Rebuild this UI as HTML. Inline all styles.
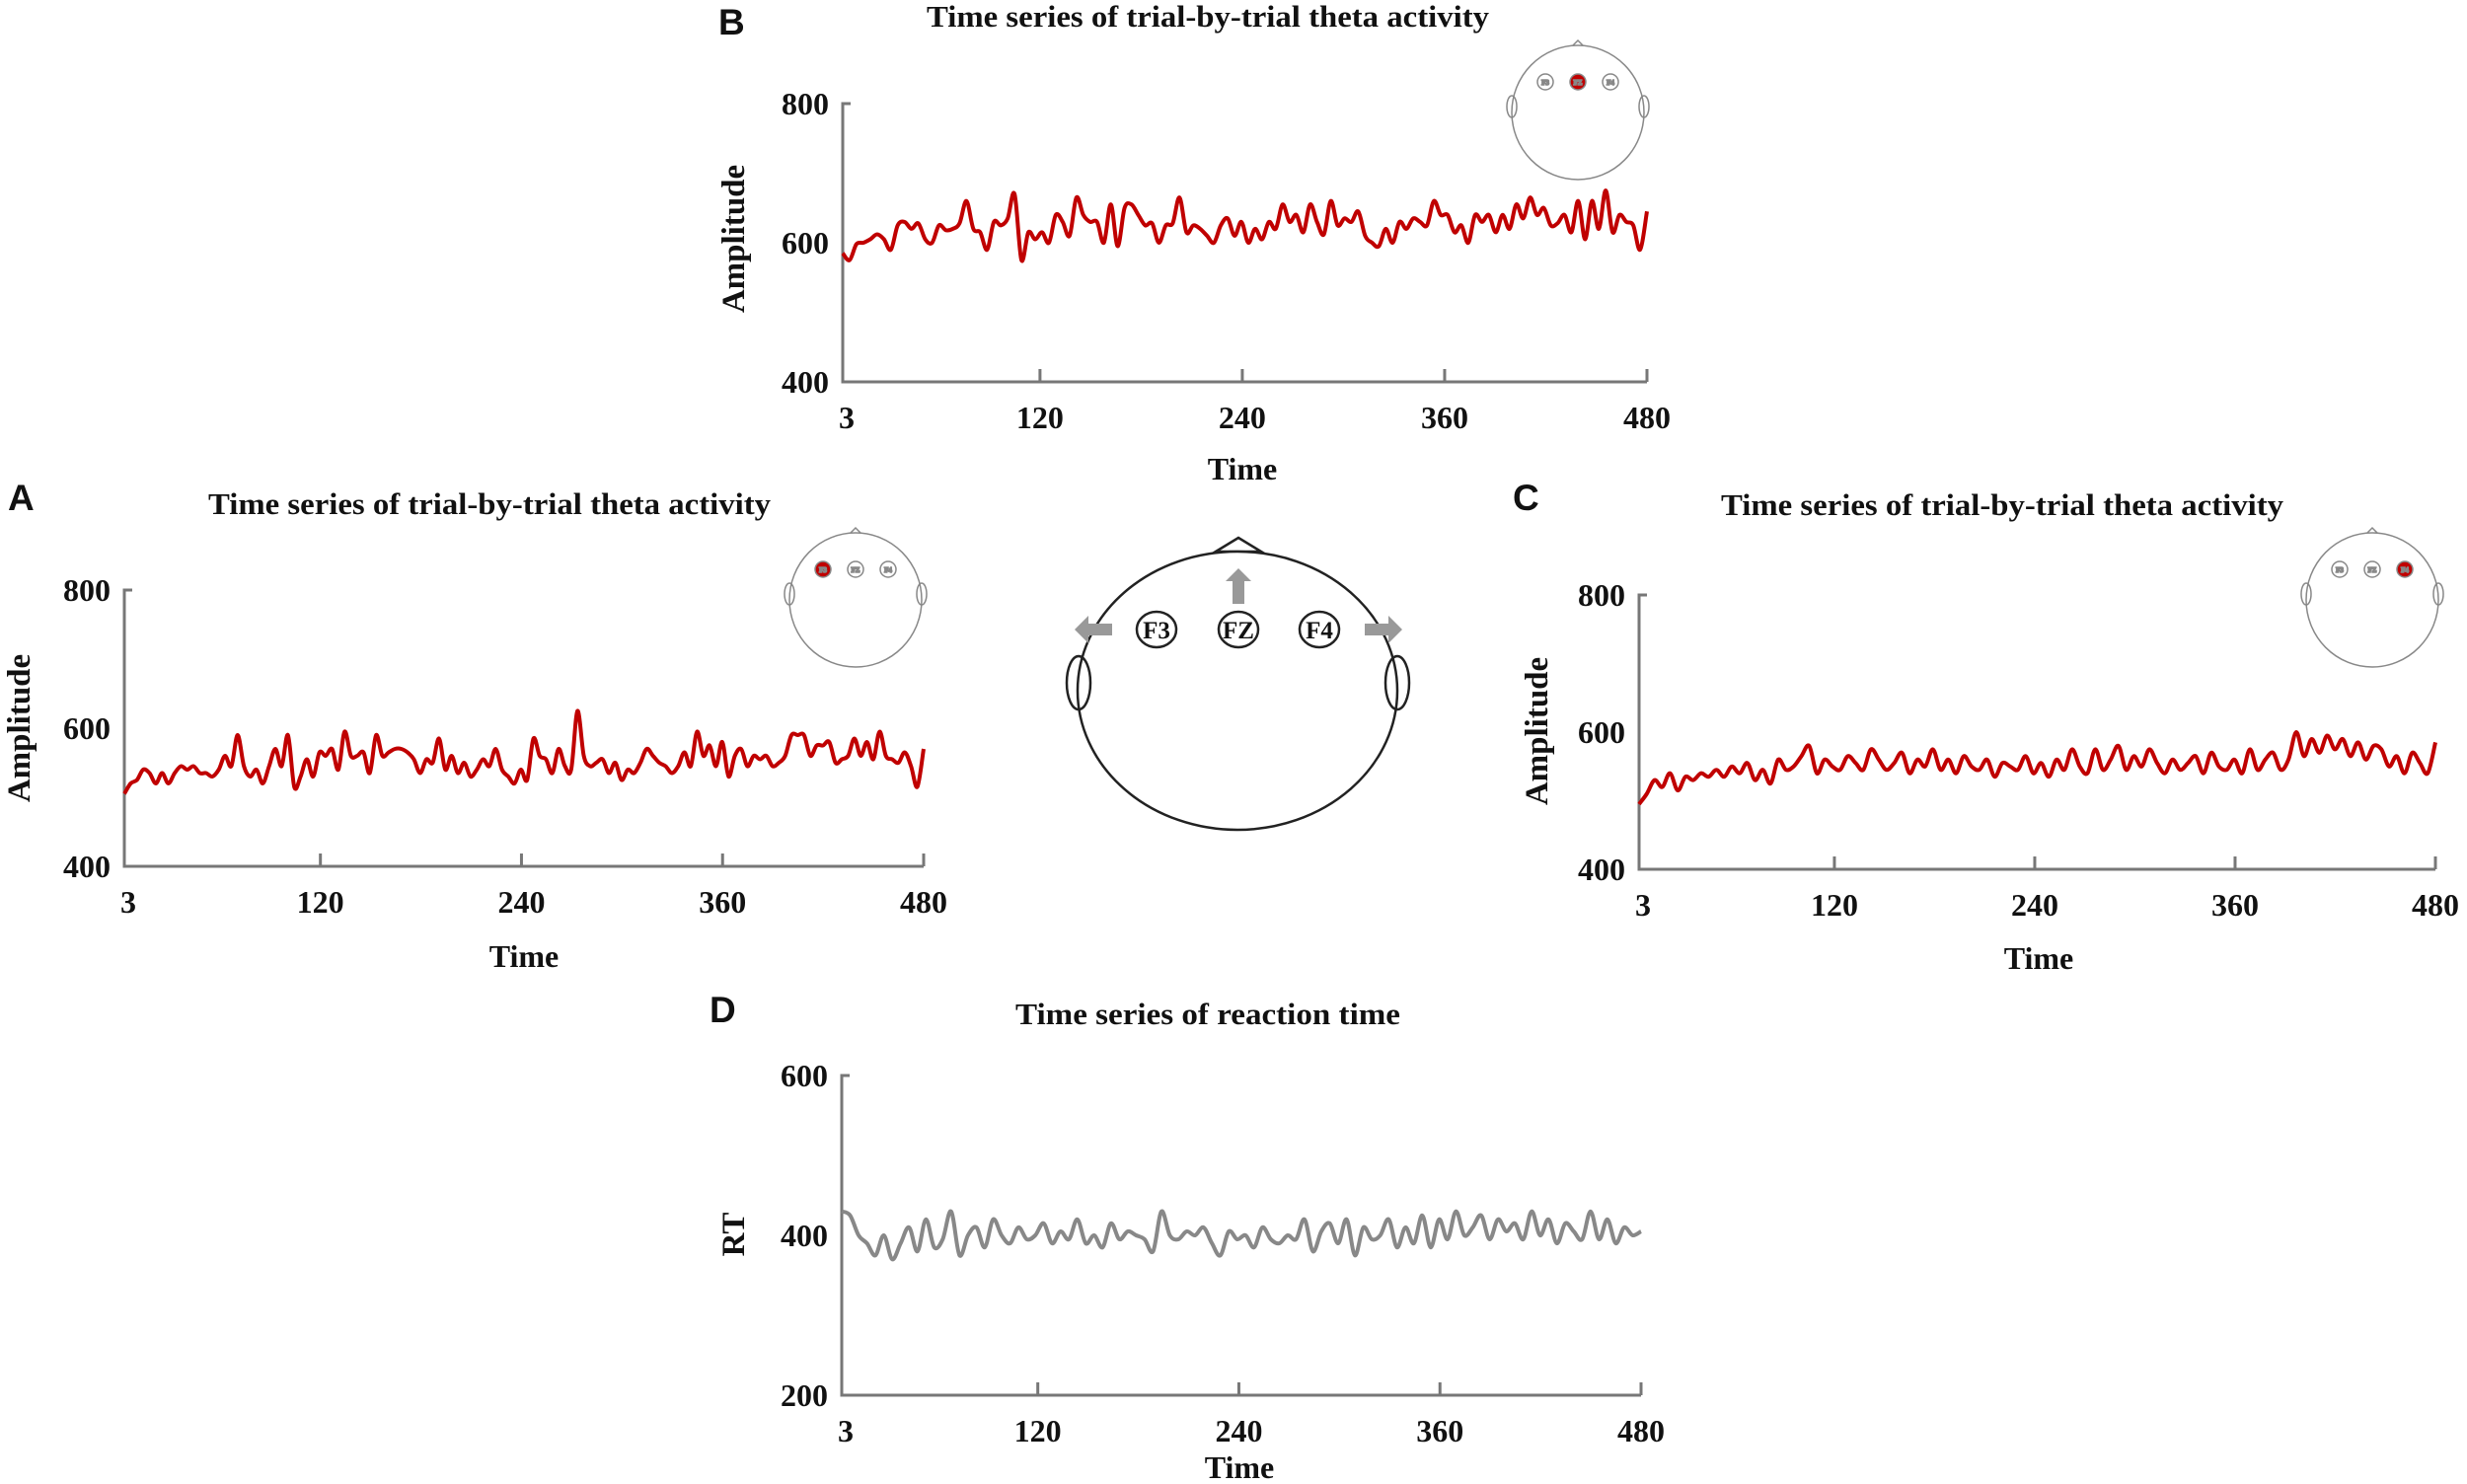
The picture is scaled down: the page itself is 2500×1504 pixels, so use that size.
<!DOCTYPE html>
<html><head><meta charset="utf-8">
<style>
html,body{margin:0;padding:0;background:#fff;}
svg{display:block;}
text{font-family:"Liberation Serif",serif;font-weight:bold;fill:#111;}
.lt{font-family:"Liberation Sans",sans-serif;font-weight:bold;}
</style></head>
<body>
<svg id="fig" width="2500" height="1504" viewBox="0 0 2500 1504" xmlns="http://www.w3.org/2000/svg">
<g id="center-head" fill="none" stroke="#222" stroke-width="2.5">
  <polygon points="1232,559 1255,545 1278,559"/>
  <ellipse cx="1254" cy="700" rx="162" ry="141" fill="#fff"/>
  <ellipse cx="1093" cy="692" rx="12" ry="27"/>
  <ellipse cx="1416" cy="692" rx="12" ry="27"/>
  <ellipse cx="1172" cy="638" rx="20" ry="18"/>
  <ellipse cx="1255" cy="638" rx="20" ry="18"/>
  <ellipse cx="1337" cy="638" rx="20" ry="18"/>
  <polygon fill="#999" stroke="none" points="1089,638 1103,624 1103,632 1127,632 1127,644 1103,644 1103,652"/>
  <polygon fill="#999" stroke="none" points="1421,638 1407,624 1407,632 1383,632 1383,644 1407,644 1407,652"/>
  <polygon fill="#999" stroke="none" points="1255,576 1268,589 1261,589 1261,612 1249,612 1249,589 1242,589"/>
</g>
<text x="1172" y="647" font-size="25" text-anchor="middle">F3</text>
<text x="1255" y="647" font-size="25" text-anchor="middle">FZ</text>
<text x="1337" y="647" font-size="25" text-anchor="middle">F4</text>
</svg>
<script>
const xTicks = [3,120,240,360,480];
const ampTicks = [400,600,800];
const rtTicks = [200,400,600];
const seriesF3 = [505,520,525,540,535,520,535,520,535,545,540,545,535,535,530,540,560,545,590,545,530,540,520,545,570,545,590,515,530,555,530,565,560,570,540,595,560,560,565,535,590,560,565,570,570,565,555,535,555,550,585,540,560,535,550,530,540,555,545,570,540,530,520,540,525,585,560,555,535,570,545,540,625,560,545,550,555,535,550,525,540,535,550,570,560,550,545,535,545,565,545,595,560,575,545,580,530,560,570,545,560,555,560,545,550,560,590,590,590,560,575,575,580,550,555,560,585,560,580,555,595,560,555,550,565,545,515,570];
const seriesFZ = [585,575,598,600,605,612,605,590,625,630,620,628,605,600,625,618,620,628,660,620,615,590,630,625,635,670,575,615,605,615,600,640,630,610,665,640,630,630,600,655,595,650,655,640,625,628,600,625,628,665,615,625,620,610,600,625,635,610,630,600,620,605,630,620,655,630,640,615,655,630,612,660,625,635,630,645,610,600,595,620,600,630,620,635,630,625,660,640,640,615,625,600,640,630,640,615,640,620,655,635,665,640,650,625,628,640,615,660,605,660,620,675,615,640,630,625,590,645];
const seriesF4 = [495,510,530,520,540,515,535,530,540,535,545,535,550,540,555,530,545,525,560,545,550,565,580,540,560,550,545,565,555,545,575,560,545,555,570,540,560,550,575,545,560,540,565,550,545,560,535,555,550,545,565,540,555,535,560,545,575,550,540,575,545,560,580,545,565,550,575,555,540,560,545,555,565,540,570,550,545,560,540,575,545,560,570,545,560,600,565,590,570,595,575,590,565,585,560,580,575,550,565,540,570,555,540,585];
const seriesRT = [430,425,400,390,375,400,370,390,410,380,420,385,395,430,375,400,410,385,420,400,390,410,395,400,415,390,405,395,420,390,400,385,415,395,405,400,395,380,430,400,395,405,400,410,390,375,405,395,400,385,410,395,390,400,395,420,380,405,415,390,420,375,410,395,400,420,385,410,390,425,385,420,395,430,400,410,425,395,420,405,415,395,430,400,420,390,415,405,395,430,395,420,390,410,400,405];

const NS = "http://www.w3.org/2000/svg";
const svg = document.getElementById('fig');
function mk(tag, attrs, parent){
  const e = document.createElementNS(NS, tag);
  for (const k in attrs) e.setAttribute(k, attrs[k]);
  (parent||svg).appendChild(e);
  return e;
}
function smoothPath(P){
  let d = `M${P[0][0].toFixed(1)},${P[0][1].toFixed(1)}`;
  for (let i=0;i<P.length-1;i++){
    const p0=P[Math.max(0,i-1)], p1=P[i], p2=P[i+1], p3=P[Math.min(P.length-1,i+2)];
    const c1x=p1[0]+(p2[0]-p0[0])/6, c1y=p1[1]+(p2[1]-p0[1])/6;
    const c2x=p2[0]-(p3[0]-p1[0])/6, c2y=p2[1]-(p3[1]-p1[1])/6;
    d += ` C${c1x.toFixed(1)},${c1y.toFixed(1)} ${c2x.toFixed(1)},${c2y.toFixed(1)} ${p2[0].toFixed(1)},${p2[1].toFixed(1)}`;
  }
  return d;
}
function panel(p){
  const g = mk('g', {});
  
  
  const xs = v => p.x0 + (v - 3) / 477 * (p.x1 - p.x0);
  const ys = v => p.yb + (v - p.ymin) / (p.ymax - p.ymin) * (p.yt - p.yb);
  const L = mk('text', {x:p.lx, y:p.ly, 'font-size':37, class:'lt'}, g);
  L.textContent = p.letter;
  
  
  const T = mk('text', {x:p.tx, y:p.ty, 'font-size':31, 'text-anchor':'middle', textLength:p.tw, lengthAdjust:'spacingAndGlyphs'}, g);
  T.textContent = p.title;
  
  
  const ax = mk('path', {d:`M${p.x0+8},${p.yt} H${p.x0} V${p.yb} H${p.x1}`, fill:'none', stroke:'#777', 'stroke-width':3}, g);
  
  
  xTicks.forEach(t => {
    const X = xs(t);
    if (t !== 3) {
      const tk = mk('line', {x1:X, x2:X, y1:p.yb, y2:p.yb-13, stroke:'#777', 'stroke-width':3}, g);
      
      
    }
    const tl = mk('text', {x:X+(t===3?4:0), y:p.yb+47, 'font-size':32, 'text-anchor':'middle'}, g);
    tl.textContent = t;
    
    
  });
  p.ticks.forEach(t => {
    const yl = mk('text', {x:p.x0-14, y:ys(t)+11, 'font-size':32, 'text-anchor':'end'}, g);
    yl.textContent = t;
    
    
  });
  const xt = mk('text', {x:p.xtx, y:p.xty, 'font-size':32, 'text-anchor':'middle'}, g);
  xt.textContent = 'Time';
  
  
  const yt = mk('text', {x:0, y:0, 'font-size':33, 'text-anchor':'middle', transform:`translate(${p.ytx},${p.yty}) rotate(-90)`}, g);
  yt.textContent = p.ylabel;
  
  
  const n = p.data.length;
  const P = p.data.map((v,i) => [xs(3 + i*477/(n-1)), ys(v)]);
  const line = mk('path', {d:smoothPath(P), fill:'none', stroke:p.color, 'stroke-width':4, 'stroke-linejoin':'round'}, g);
  
  
  if (p.hx) {
    const h = mk('g', {fill:'none', stroke:'#888', 'stroke-width':1.5}, g);
    
    
    mk('polygon', {points:`${p.hx-7},${p.hy-66} ${p.hx},${p.hy-73} ${p.hx+7},${p.hy-66}`}, h);
    mk('ellipse', {cx:p.hx, cy:p.hy, rx:67, ry:68, fill:'#fff'}, h);
    mk('ellipse', {cx:p.hx-67, cy:p.hy-6, rx:5, ry:11}, h);
    mk('ellipse', {cx:p.hx+67, cy:p.hy-6, rx:5, ry:11}, h);
    ['F3','FZ','F4'].forEach((lab,i) => {
      const cx = p.hx + (i-1)*33, cy = p.hy-31;
      mk('ellipse', {cx:cx, cy:cy, rx:8, ry:8, fill: i===p.act ? '#c00000' : '#fff'}, h);
      const tt = mk('text', {x:cx, y:cy+3, 'font-size':7, 'font-weight':'normal', 'text-anchor':'middle'}, h);
      tt.textContent = lab;
      
      
    });
  }
}
panel({name:'panel-a', letter:'A', lx:8, ly:517, title:'Time series of trial-by-trial theta activity', tx:496, ty:521, tw:570,
  x0:126, x1:936, yt:598, yb:878, ymin:400, ymax:800, ticks:ampTicks, ylabel:'Amplitude', ytx:30, yty:738,
  xtx:531, xty:980, data:seriesF3, color:'#c00000', hx:867, hy:608, act:0});
panel({name:'panel-b', letter:'B', lx:728, ly:35, title:'Time series of trial-by-trial theta activity', tx:1224, ty:27, tw:570,
  x0:854, x1:1669, yt:105, yb:387, ymin:400, ymax:800, ticks:ampTicks, ylabel:'Amplitude', ytx:754, yty:242,
  xtx:1259, xty:486, data:seriesFZ, color:'#c00000', hx:1599, hy:114, act:1});
panel({name:'panel-c', letter:'C', lx:1533, ly:517, title:'Time series of trial-by-trial theta activity', tx:2029, ty:522, tw:570,
  x0:1661, x1:2468, yt:603, yb:881, ymin:400, ymax:800, ticks:ampTicks, ylabel:'Amplitude', ytx:1568, yty:741,
  xtx:2066, xty:982, data:seriesF4, color:'#c00000', hx:2404, hy:608, act:2});
panel({name:'panel-d', letter:'D', lx:719, ly:1036, title:'Time series of reaction time', tx:1224, ty:1038, tw:390,
  x0:853, x1:1663, yt:1090, yb:1414, ymin:200, ymax:600, ticks:rtTicks, ylabel:'RT', ytx:754, yty:1251,
  xtx:1256, xty:1498, data:seriesRT, color:'#888888'});
</script>
</body></html>
